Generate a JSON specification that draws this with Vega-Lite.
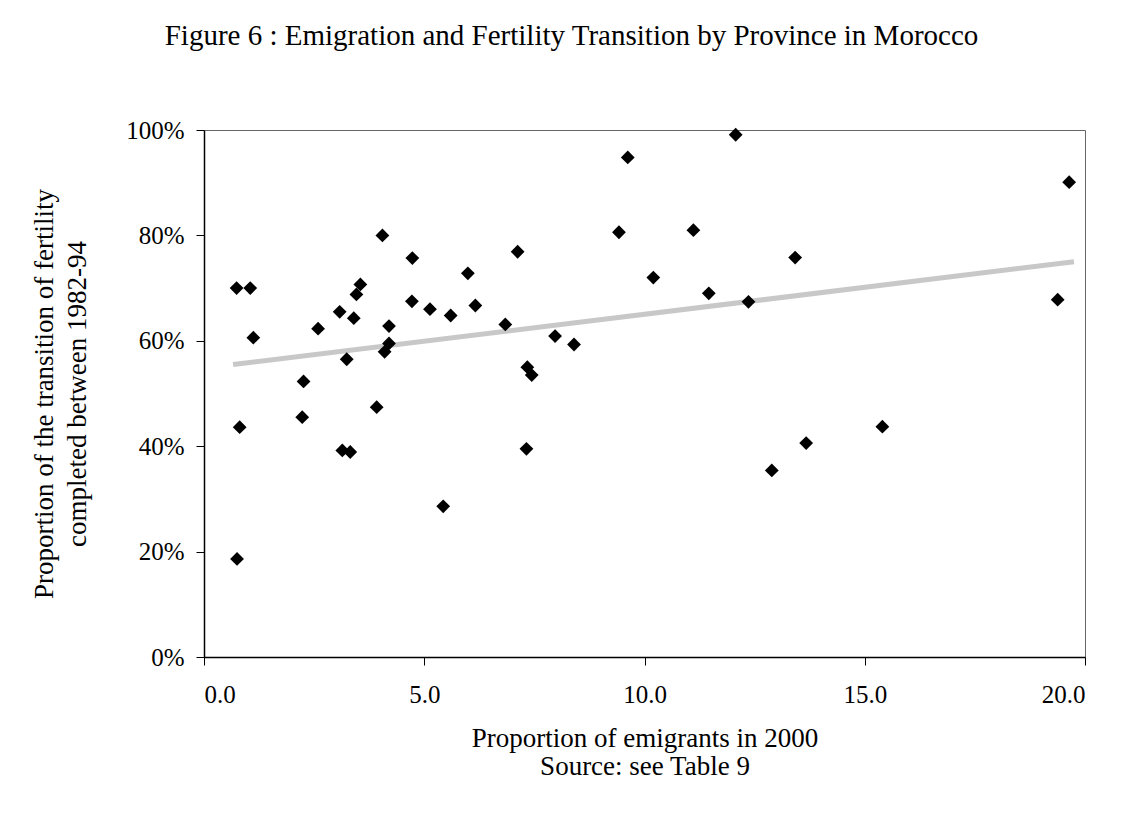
{
  "$schema": "https://vega.github.io/schema/vega-lite/v6.json",
  "autosize": {"type": "none"},
  "width": 881,
  "height": 527,
  "padding": {"left": 204, "top": 130, "right": 47, "bottom": 167},
  "background": "white",
  "title": {
    "text": "Figure  6 : Emigration and Fertility Transition by Province in Morocco",
    "font": "Liberation Serif",
    "fontSize": 29,
    "fontWeight": "normal",
    "color": "black",
    "anchor": "middle",
    "dx": -73,
    "offset": 67
  },
  "config": {
    "view": {"stroke": "#666666", "strokeWidth": 1},
    "axis": {
      "grid": false,
      "domainColor": "black",
      "domainWidth": 1.5,
      "tickColor": "black",
      "tickWidth": 1,
      "tickSize": 8,
      "labelFont": "Liberation Serif",
      "labelFontSize": 25,
      "labelColor": "black",
      "titleFont": "Liberation Serif",
      "titleFontSize": 27,
      "titleFontWeight": "normal",
      "titleColor": "black"
    }
  },
  "datasets": {
    "points": [
      {"emigrants": 0.74, "transition": 0.700},
      {"emigrants": 1.05, "transition": 0.700},
      {"emigrants": 1.12, "transition": 0.606},
      {"emigrants": 0.81, "transition": 0.436},
      {"emigrants": 0.75, "transition": 0.186},
      {"emigrants": 2.23, "transition": 0.455},
      {"emigrants": 2.26, "transition": 0.523},
      {"emigrants": 2.59, "transition": 0.623},
      {"emigrants": 3.08, "transition": 0.655},
      {"emigrants": 3.40, "transition": 0.643},
      {"emigrants": 3.24, "transition": 0.565},
      {"emigrants": 3.46, "transition": 0.688},
      {"emigrants": 3.55, "transition": 0.707},
      {"emigrants": 4.05, "transition": 0.800},
      {"emigrants": 3.92, "transition": 0.474},
      {"emigrants": 4.20, "transition": 0.628},
      {"emigrants": 4.20, "transition": 0.595},
      {"emigrants": 4.10, "transition": 0.579},
      {"emigrants": 4.72, "transition": 0.675},
      {"emigrants": 4.73, "transition": 0.757},
      {"emigrants": 5.13, "transition": 0.660},
      {"emigrants": 5.60, "transition": 0.648},
      {"emigrants": 5.99, "transition": 0.728},
      {"emigrants": 6.16, "transition": 0.667},
      {"emigrants": 6.84, "transition": 0.631},
      {"emigrants": 7.12, "transition": 0.769},
      {"emigrants": 7.34, "transition": 0.550},
      {"emigrants": 7.44, "transition": 0.535},
      {"emigrants": 7.97, "transition": 0.609},
      {"emigrants": 8.40, "transition": 0.593},
      {"emigrants": 9.42, "transition": 0.806},
      {"emigrants": 9.62, "transition": 0.948},
      {"emigrants": 10.20, "transition": 0.720},
      {"emigrants": 12.07, "transition": 0.991},
      {"emigrants": 11.11, "transition": 0.810},
      {"emigrants": 11.46, "transition": 0.690},
      {"emigrants": 12.36, "transition": 0.674},
      {"emigrants": 13.42, "transition": 0.758},
      {"emigrants": 19.64, "transition": 0.901},
      {"emigrants": 19.38, "transition": 0.678},
      {"emigrants": 15.40, "transition": 0.437},
      {"emigrants": 13.67, "transition": 0.406},
      {"emigrants": 12.89, "transition": 0.354},
      {"emigrants": 3.14, "transition": 0.392},
      {"emigrants": 3.32, "transition": 0.389},
      {"emigrants": 7.32, "transition": 0.395},
      {"emigrants": 5.43, "transition": 0.286}
    ],
    "trend": [
      {"emigrants": 0.66, "transition": 0.555},
      {"emigrants": 19.75, "transition": 0.750}
    ]
  },
  "encoding": {
    "x": {
      "field": "emigrants",
      "type": "quantitative",
      "scale": {"domain": [0, 20], "nice": false, "zero": false},
      "axis": {
        "values": [0, 5, 10, 15, 20],
        "format": ".1f",
        "labelPadding": 17,
        "title": ["Proportion of emigrants in 2000", "Source: see Table 9"],
        "titlePadding": 18,
        "titleLineHeight": 28
      }
    },
    "y": {
      "field": "transition",
      "type": "quantitative",
      "scale": {"domain": [0, 1], "nice": false},
      "axis": {
        "values": [0, 0.2, 0.4, 0.6, 0.8, 1],
        "format": ".0%",
        "labelPadding": 12,
        "title": ["Proportion of the transition of fertility", "completed between 1982-94"],
        "titlePadding": 34,
        "titleLineHeight": 33
      }
    }
  },
  "layer": [
    {
      "data": {"name": "trend"},
      "mark": {"type": "line", "stroke": "#c8c8c8", "strokeWidth": 5, "strokeCap": "butt"},
      "encoding": {}
    },
    {
      "data": {"name": "points"},
      "mark": {"type": "point", "shape": "diamond", "filled": true, "color": "black", "opacity": 1, "size": 190}
    }
  ]
}
